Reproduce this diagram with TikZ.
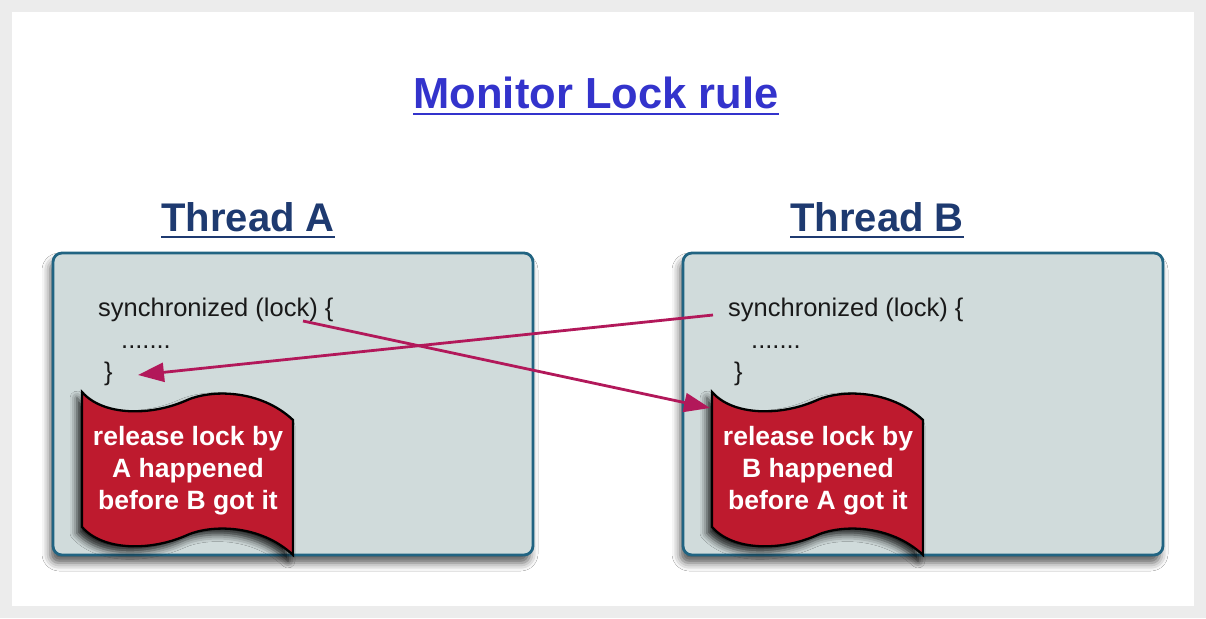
\documentclass[tikz,border=0pt]{standalone}
\usepackage{fontspec}
\setmainfont{Liberation Sans}
\usetikzlibrary{shadows.blur, arrows.meta}
\definecolor{titleblue}{RGB}{51,51,204}
\definecolor{navy}{RGB}{30,58,112}
\definecolor{boxfill}{RGB}{208,219,219}
\definecolor{boxline}{RGB}{33,100,130}
\definecolor{flagred}{RGB}{190,26,46}
\definecolor{arrowc}{RGB}{178,24,90}
\definecolor{framegray}{RGB}{236,236,236}
\begin{document}
\begin{tikzpicture}[x=1pt,y=-1pt,
  threadbox/.style={draw=boxline, line width=2.8pt, fill=boxfill, rounded corners=9pt,
    minimum width=480pt, minimum height=302pt, inner sep=0pt,
    blur shadow={shadow xshift=-3pt, shadow yshift=-8pt, shadow blur radius=8pt, shadow opacity=65}},
  code/.style={font=\fontsize{25.5}{30}\selectfont, text=black!90, inner sep=0pt, anchor=base west},
  heading/.style={font=\bfseries\fontsize{40}{48}\selectfont, text=navy, inner sep=0pt, anchor=base},
  flagshape/.style={fill=flagred, draw=black, line width=2.3pt,
    blur shadow={shadow xshift=-5pt, shadow yshift=-6pt, shadow blur radius=7pt, shadow opacity=85}},
  flagtext/.style={font=\bfseries\fontsize{26.5}{32}\selectfont, text=white, align=center, inner sep=0pt},
  link/.style={draw=arrowc, line width=2.8pt, -{Triangle[length=26pt,width=19pt]}}
]
\useasboundingbox (0,0) rectangle (1206,618);
\fill[framegray] (0,0) rectangle (1206,618);
\fill[white] (12,12) rectangle (1194,606);

% title
\node[font=\bfseries\fontsize{43.5}{52}\selectfont, text=titleblue, inner sep=0pt, anchor=base] (title) at (596,108) {Monitor Lock rule};
\draw[titleblue, line width=2.2pt] ([yshift=-6pt]title.base west) -- ([yshift=-6pt]title.base east);

% thread headings
\node[heading] (thA) at (248,231) {Thread A};
\draw[navy, line width=2.4pt] ([yshift=-6pt]thA.base west) -- ([yshift=-6pt]thA.base east);
\node[heading] (thB) at (877,231) {Thread B};
\draw[navy, line width=2.4pt] ([yshift=-6pt]thB.base west) -- ([yshift=-6pt]thB.base east);

% boxes
\node[threadbox] (boxA) at (293,404) {};
\node[threadbox] (boxB) at (923,404) {};

% code A
\node[code] (syncA) at (98,316) {synchronized (lock) \{};
\node[code] (dotsA) at (121,348) {.......};
\node[code] (closeA) at (104,380) {\}};
% code B
\node[code] (syncB) at (728,316) {synchronized (lock) \{};
\node[code] (dotsB) at (751,348) {.......};
\node[code] (closeB) at (734,380) {\}};

% flags
\foreach \dx/\nm/\txt in {0/flagA/{release lock by\\A happened\\before B got it}, 630/flagB/{release lock by\\B happened\\before A got it}}{
  \begin{scope}[shift={(\dx,0)}]
    \path[flagshape] (82,392) .. controls (103,416) and (150,416) .. (185,401)
      .. controls (210,389) and (260,389) .. (293,420) -- (293,555)
      .. controls (260,524) and (210,524) .. (185,536)
      .. controls (150,551) and (103,551) .. (82,527) -- cycle;
    \node[flagtext] (\nm) at (188,471) {\txt};
  \end{scope}
}

% connectors
\coordinate (lockA) at (303,321);
\coordinate (tipB) at (710,408);
\coordinate (startB) at (713,315);
\coordinate (tipA) at (138,375);
\draw[link] (lockA) -- (tipB);
\draw[link] (startB) -- (tipA);
\end{tikzpicture}
\end{document}
